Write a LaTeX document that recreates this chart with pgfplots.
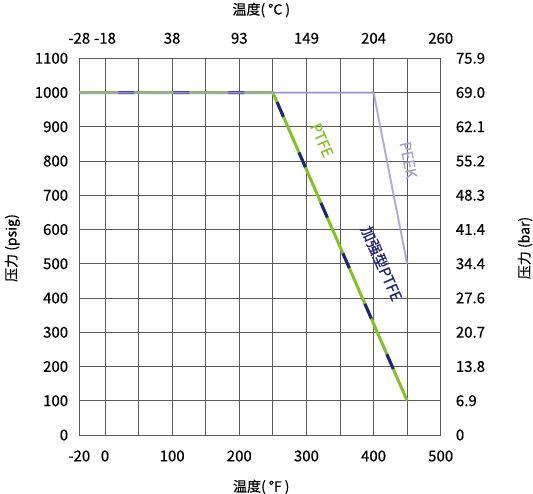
\documentclass[border=0pt]{standalone}
\usepackage{fontspec}
\setmainfont{Noto Sans CJK SC}[FakeBold=0.4]
\usepackage{pgfplots}
\usepackage{pgfplotstable}
\pgfplotsset{compat=1.18}
\definecolor{ptfegreen}{RGB}{132,194,37}
\definecolor{rptfeblue}{RGB}{32,36,128}
\definecolor{peeklav}{RGB}{165,160,214}
\definecolor{gridgray}{RGB}{95,90,90}

% left edge is labelled -20 F but drawn wider, as in the source chart
\pgfplotstableread{
x y
-38.3 1000
250 1000
450 100
}\ptfe
\pgfplotstableread{
x y
-38.3 1000
250 1000
450 100
}\rptfe
\pgfplotstableread{
x y
-38.3 1000
400 1000
450 500
}\peek

\begin{document}
\begin{tikzpicture}
\useasboundingbox (-79.3pt,-58pt) rectangle (453.7pt,435pt);
\pgfplotsset{
  common/.style={
    at={(0,0)}, anchor=south west,
    scale only axis, width=361.4pt, height=376.7pt,
    xmin=-38.3, xmax=500, ymin=0, ymax=1100,
    xtick={-38.3,0,100,200,300,400,500},
    ytick={0,100,...,1100},
    major tick length=0pt, minor tick length=0pt,
    axis line style={gridgray, line width=0.9pt},
    ticklabel style={font=\fontsize{15}{16}\selectfont, inner sep=0pt},
  },
}
\begin{axis}[
  common,
  xticklabels={-20,0,100,200,300,400,500},
  yticklabels={0,100,200,300,400,500,600,700,800,900,1000,1100},
  minor xtick={50,150,250,350,450},
  grid=both,
  major grid style={gridgray, line width=0.9pt},
  minor grid style={gridgray, line width=0.9pt},
  xticklabel style={anchor=center, yshift=-21pt},
  yticklabel style={anchor=east, xshift=-11pt},
  axis x line*=bottom, axis y line*=left,
  clip=false,
]
\addplot[ptfegreen, line width=3pt] table {\ptfe};
\addplot[rptfeblue, line width=3pt, dash pattern=on 16pt off 39pt, dash phase=16pt] table {\rptfe};
\addplot[peeklav, line width=2pt, opacity=0.85] table {\peek};
\node[rotate=-66.5, text=ptfegreen, font=\fontsize{15}{16}\selectfont] at (axis cs:323,861) {PTFE};
\node[rotate=-79, text=peeklav, font=\fontsize{15}{16}\selectfont] at (axis cs:452,803) {PEEK};
\node[rotate=-66.5, text=rptfeblue, font=\fontsize{15}{16}\selectfont] at (axis cs:412,501) {加强型PTFE};
\end{axis}
\begin{axis}[
  common,
  xticklabels={-28,-18,38,93,149,204,260},
  yticklabels={0,6.9,13.8,20.7,27.6,34.4,41.4,48.3,55.2,62.1,69.0,75.9},
  axis x line*=top, axis y line*=right,
  xticklabel style={anchor=center, yshift=20pt},
  yticklabel style={anchor=west, xshift=15pt},
]
\end{axis}
\node[font=\fontsize{14}{15}\selectfont] at (182pt,-52pt) {温度(\hspace{3pt}°F\hspace{3pt})};
\node[font=\fontsize{14}{15}\selectfont] at (182pt,425pt) {温度(\hspace{3pt}°C\hspace{3pt})};
\node[rotate=90, font=\fontsize{14}{15}\selectfont] at (-67pt,187pt) {压力 (psig)};
\node[rotate=90, font=\fontsize{14}{15}\selectfont] at (445.7pt,187pt) {压力 (bar)};
\end{tikzpicture}
\end{document}
